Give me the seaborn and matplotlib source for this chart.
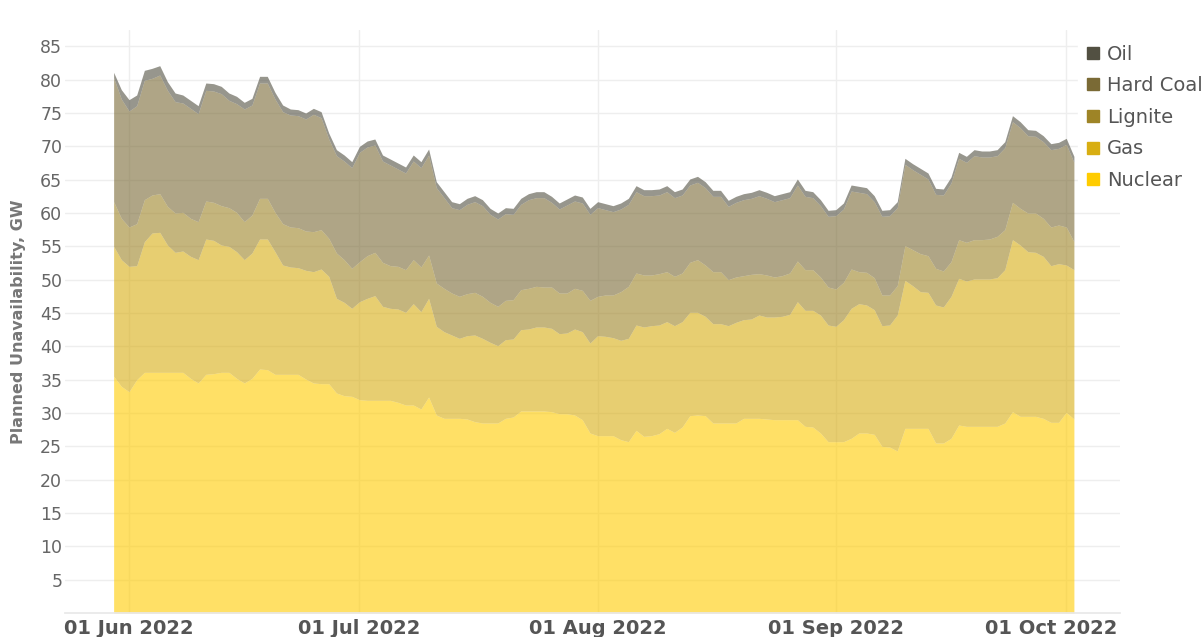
import pandas as pd
import numpy as np
import seaborn as sns
import matplotlib.pyplot as plt
import matplotlib.dates as mdates
import matplotlib.transforms as mtransforms
from matplotlib.lines import Line2D

# daily values, 30 May 2022 .. 02 Oct 2022 (GW)
dates = pd.date_range("2022-05-30", periods=126, freq="D")

nuclear = [35.5, 34.0, 33.2, 35.0, 36.1, 36.1, 36.1, 36.1, 36.1, 36.1,
           35.2, 34.5, 35.8, 35.9, 36.1, 36.1, 35.2, 34.5, 35.2, 36.6,
           36.5, 35.8, 35.8, 35.8, 35.8, 35.1, 34.5, 34.4, 34.4, 33.0,
           32.6, 32.5, 32.0, 31.9, 31.9, 31.9, 31.9, 31.6, 31.2, 31.2,
           30.6, 32.4, 29.7, 29.2, 29.2, 29.2, 29.1, 28.7, 28.5, 28.5,
           28.5, 29.2, 29.4, 30.3, 30.3, 30.3, 30.3, 30.2, 29.9, 29.9,
           29.7, 29.0, 27.0, 26.6, 26.6, 26.6, 26.0, 25.7, 27.4, 26.5,
           26.6, 26.9, 27.7, 27.1, 27.9, 29.6, 29.7, 29.6, 28.5, 28.5,
           28.5, 28.5, 29.2, 29.2, 29.2, 29.1, 29.0, 29.0, 29.0, 29.0,
           28.0, 27.9, 27.0, 25.7, 25.7, 25.7, 26.2, 27.0, 27.0, 26.8,
           25.0, 24.9, 24.3, 27.7, 27.7, 27.7, 27.7, 25.5, 25.5, 26.2,
           28.2, 28.0, 28.0, 28.0, 28.0, 28.0, 28.5, 30.2, 29.5, 29.5,
           29.5, 29.2, 28.6, 28.6, 30.1, 29.1]

gas = [19.5, 19.0, 18.8, 17.1, 19.6, 20.9, 21.0, 19.1, 18.0, 18.2,
       18.3, 18.5, 20.3, 20.0, 19.1, 18.9, 19.0, 18.5, 18.8, 19.5,
       19.6, 18.4, 16.4, 16.1, 16.0, 16.3, 16.7, 17.2, 16.1, 14.2,
       14.0, 13.2, 14.7, 15.3, 15.7, 14.1, 13.8, 14.0, 13.9, 15.2,
       14.6, 14.8, 13.3, 13.0, 12.5, 12.0, 12.5, 13.0, 12.7, 12.1,
       11.6, 11.8, 11.7, 12.2, 12.3, 12.6, 12.6, 12.5, 12.0, 12.1,
       12.9, 13.2, 13.5, 15.0, 14.9, 14.7, 14.9, 15.5, 15.8, 16.4,
       16.5, 16.3, 16.0, 16.0, 15.8, 15.5, 15.4, 14.9, 14.9, 14.9,
       14.6, 15.1, 14.8, 14.9, 15.5, 15.3, 15.4, 15.5, 15.8, 17.7,
       17.4, 17.5, 17.7, 17.5, 17.3, 18.3, 19.5, 19.4, 19.2, 18.7,
       18.1, 18.3, 20.4, 22.2, 21.4, 20.5, 20.4, 20.7, 20.4, 21.3,
       22.0, 21.8, 22.1, 22.1, 22.1, 22.3, 23.0, 25.8, 25.7, 24.7,
       24.6, 24.3, 23.5, 23.8, 22.1, 22.4]

lignite = [6.7, 6.2, 5.9, 6.3, 6.3, 5.7, 5.8, 5.8, 5.9, 5.8,
           5.7, 5.7, 5.7, 5.7, 5.9, 5.8, 5.9, 5.7, 5.7, 6.1,
           6.1, 5.9, 6.2, 6.0, 6.0, 5.9, 6.0, 5.9, 5.7, 6.8,
           6.4, 6.0, 6.0, 6.4, 6.5, 6.6, 6.4, 6.4, 6.4, 6.6,
           6.7, 6.5, 6.5, 6.5, 6.3, 6.3, 6.3, 6.4, 6.3, 6.0,
           5.9, 5.9, 5.9, 6.0, 6.1, 6.1, 6.0, 6.2, 6.1, 6.0,
           6.1, 6.2, 6.4, 5.9, 6.2, 6.4, 7.3, 7.8, 7.8, 7.8,
           7.6, 7.7, 7.5, 7.4, 7.3, 7.5, 7.9, 7.7, 7.8, 7.8,
           6.9, 6.8, 6.6, 6.7, 6.2, 6.3, 6.0, 6.1, 6.2, 6.1,
           6.1, 6.1, 5.7, 5.7, 5.6, 5.6, 5.9, 4.8, 4.9, 4.8,
           4.6, 4.5, 4.4, 5.2, 5.4, 5.7, 5.5, 5.5, 5.4, 5.2,
           5.8, 5.8, 5.9, 5.9, 6.0, 6.2, 6.0, 5.6, 5.5, 5.8,
           5.9, 5.7, 5.8, 5.8, 5.7, 4.2]

hard_coal = [18.6, 17.9, 17.4, 17.7, 17.9, 17.5, 17.8, 17.4, 16.7, 16.4,
             16.5, 16.2, 16.6, 16.7, 16.8, 16.1, 16.3, 16.9, 16.5, 17.3,
             17.3, 17.0, 16.8, 16.8, 16.8, 16.8, 17.6, 16.8, 14.9, 14.6,
             14.8, 15.1, 16.4, 16.3, 16.1, 15.2, 15.1, 14.6, 14.5, 14.8,
             14.9, 15.0, 14.3, 13.6, 12.8, 13.0, 13.4, 13.6, 13.6, 13.2,
             13.1, 13.0, 12.8, 12.8, 13.3, 13.3, 13.4, 12.7, 12.6, 13.2,
             13.1, 13.1, 12.9, 13.3, 12.8, 12.5, 12.4, 12.3, 12.2, 11.9,
             11.9, 11.8, 12.0, 11.8, 11.7, 11.6, 11.6, 11.6, 11.3, 11.3,
             11.0, 11.2, 11.4, 11.4, 11.7, 11.5, 11.3, 11.4, 11.3, 11.4,
             11.0, 10.8, 10.7, 10.6, 11.0, 11.0, 11.7, 11.9, 11.8, 11.4,
             11.8, 11.9, 11.7, 12.2, 12.0, 11.9, 11.5, 11.1, 11.4, 11.8,
             12.2, 12.0, 12.6, 12.4, 12.3, 12.1, 12.3, 12.1, 12.1, 11.6,
             11.5, 11.5, 11.6, 11.5, 12.4, 11.9]

oil = [0.8, 1.4, 1.7, 1.6, 1.5, 1.5, 1.4, 1.3, 1.3, 1.2,
       1.2, 1.2, 1.1, 1.1, 1.1, 1.1, 1.1, 1.0, 1.0, 1.0,
       1.0, 1.0, 1.0, 0.9, 0.9, 0.9, 0.9, 0.9, 0.9, 0.9,
       0.9, 0.9, 0.9, 0.9, 0.9, 0.9, 0.9, 0.9, 0.9, 0.9,
       0.9, 0.9, 0.9, 0.9, 0.9, 0.9, 0.9, 0.9, 0.9, 0.9,
       0.9, 0.9, 0.9, 0.9, 0.9, 0.9, 0.9, 0.9, 0.9, 0.9,
       0.9, 0.9, 0.9, 0.9, 0.9, 0.9, 0.9, 0.9, 0.9, 0.9,
       0.9, 0.9, 0.9, 0.9, 0.9, 0.9, 0.9, 0.9, 0.9, 0.9,
       0.9, 0.9, 0.9, 0.9, 0.9, 0.9, 0.9, 0.9, 0.9, 0.9,
       0.9, 0.9, 0.9, 0.9, 0.9, 0.9, 0.9, 0.9, 0.9, 0.9,
       0.9, 0.9, 0.9, 0.9, 0.9, 0.9, 0.9, 0.9, 0.9, 0.9,
       0.9, 0.9, 0.9, 0.9, 0.9, 0.9, 0.9, 0.9, 0.9, 0.9,
       0.9, 0.9, 0.9, 0.9, 0.9, 0.9]

fuels = ["Nuclear", "Gas", "Lignite", "Hard Coal", "Oil"]
colors = ["#ffcc00", "#d8ae12", "#9e8426", "#7a6a35", "#525042"]

df = pd.DataFrame({"date": dates, "Nuclear": nuclear, "Gas": gas,
                   "Lignite": lignite, "Hard Coal": hard_coal, "Oil": oil})

sns.set_theme(style="white")
plt.rcParams['font.family'] = ['DejaVu Sans']

fig = plt.figure(figsize=(12.03, 6.37), dpi=100)
ax = fig.add_axes([65 / 1203, 1 - 613 / 637, (1120 - 65) / 1203, (613 - 30) / 637])

# stacked areas, semi transparent like the original
ax.stackplot(df["date"], *[df[f] for f in fuels], colors=colors, alpha=0.6,
             linewidth=0, labels=fuels)

x0 = pd.Timestamp("2022-05-30")
ax.set_xlim(x0 - pd.Timedelta(days=6.33), x0 + pd.Timedelta(days=131.0))
ax.set_ylim(0, 87.45)

ax.set_yticks(np.arange(5, 90, 5))
ax.xaxis.set_major_locator(mdates.MonthLocator(bymonthday=1))
ax.xaxis.set_major_formatter(mdates.DateFormatter("%d %b %Y"))
ax.grid(True, color="#eeeeee", linewidth=1)
ax.set_axisbelow(True)

for s in ["top", "right", "left"]:
    ax.spines[s].set_visible(False)
ax.spines["bottom"].set_color("#e8e8e8")

ax.tick_params(axis="y", length=0, pad=2, labelsize=12.5, labelcolor="#666666")
ax.tick_params(axis="x", length=0, pad=4, labelsize=14, labelcolor="#555555")
for lb in ax.get_xticklabels():
    lb.set_fontweight("bold")

# last date label pushed left so it stays inside the figure
fig.canvas.draw()
last = ax.get_xticklabels()[-1]
last.set_transform(last.get_transform() +
                   mtransforms.ScaledTranslation(-0.15, 0, fig.dpi_scale_trans))

ax.set_ylabel("Planned Unavailability, GW", fontsize=11.5, fontweight="bold",
              color="#777777", labelpad=10)
ax.set_xlabel("")

handles = [Line2D([0], [0], marker="s", linestyle="none", markersize=8,
                  markerfacecolor=c, markeredgecolor=c)
           for c in colors[::-1]]
leg = fig.legend(handles, fuels[::-1], loc="upper left",
                 bbox_to_anchor=(1068 / 1203, 1 - 29 / 637),
                 frameon=True, fontsize=14, handletextpad=0.2,
                 labelspacing=0.65, borderpad=0.3, handlelength=1.0,
                 labelcolor="#555555")
leg.get_frame().set_facecolor("white")
leg.get_frame().set_edgecolor("white")
leg.get_frame().set_alpha(1)

fig.savefig("out.png", dpi=100, facecolor="white")
